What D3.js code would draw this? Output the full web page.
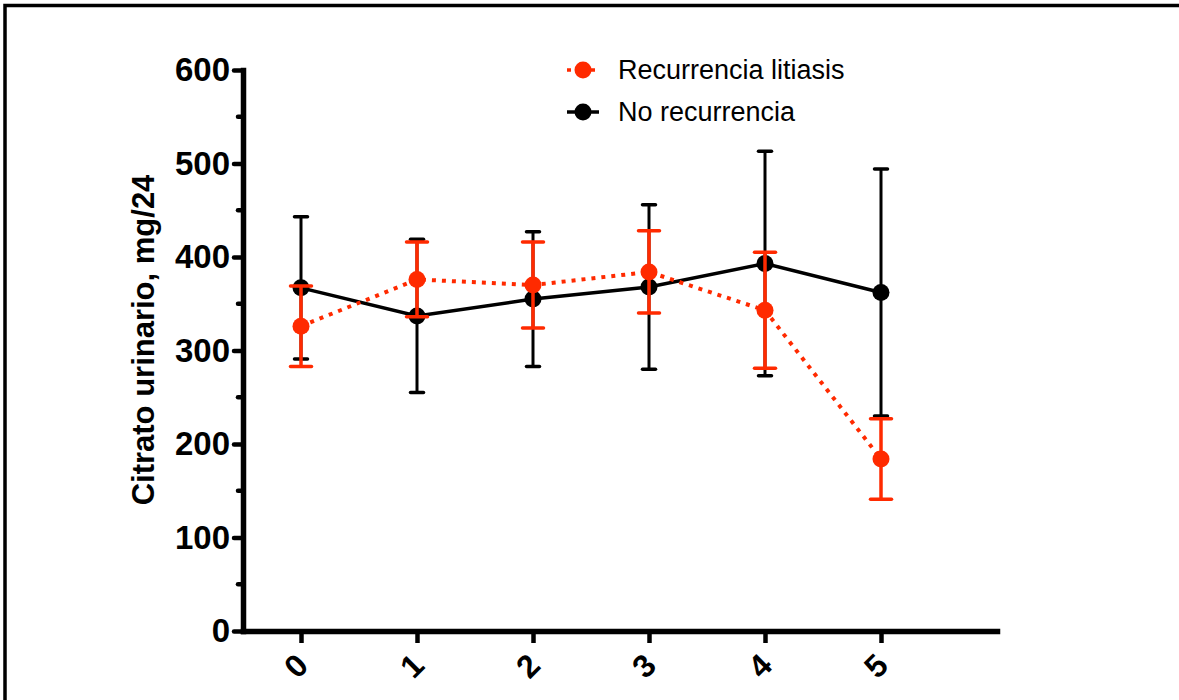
<!DOCTYPE html>
<html>
<head>
<meta charset="utf-8">
<script src="https://cdnjs.cloudflare.com/ajax/libs/d3/7.8.5/d3.min.js"></script>
<style>
  body { margin: 0; background: #fff; }
  svg { display: block; }
</style>
</head>
<body>
<div id="chart"></div>
<script>
// data (mean and error bar half-length)
const timePoints = [0, 1, 2, 3, 4, 5];
const recMean = [326, 376, 370, 384, 343, 184];
const recErr = [43, 40, 46, 44, 62, 43];
const noRecMean = [367, 337, 355, 368, 393, 362];
const noRecErr = [76, 82, 72, 88, 120, 132];
const yMajorTicks = [0, 100, 200, 300, 400, 500, 600];
const yMinorTicks = [50, 150, 250, 350, 450, 550];
const seriesNames = ["Recurrencia litiasis", "No recurrencia"];

const red = "#ff2a00";
const W = 1179, H = 700;

const svg = d3.select("#chart").append("svg")
    .attr("width", W)
    .attr("height", H);

svg.append("rect").attr("width", W).attr("height", H).attr("fill", "#fff");

// frame (top + left edges only)
svg.append("path")
    .attr("d", "M5,700 L5,5.5 L1179,5.5")
    .attr("fill", "none")
    .attr("stroke", "#000")
    .attr("stroke-width", 3.5);

// scales
const x = d3.scaleLinear().domain([-0.5, 6]).range([243, 997]);
const y = d3.scaleLinear().domain([0, 600]).range([631, 70]);

// y axis
const yAxis = svg.append("g")
    .attr("transform", "translate(243,0)")
    .call(d3.axisLeft(y).tickValues(yMajorTicks).tickSize(9).tickSizeOuter(0).tickPadding(4));
yAxis.select(".domain").attr("stroke-width", 5.5).attr("stroke-linecap", "square");
yAxis.selectAll(".tick line").attr("stroke-width", 4.5).attr("stroke-linecap", "round");
yAxis.selectAll(".tick text")
    .attr("font-family", "Liberation Sans, Arial, sans-serif")
    .attr("font-weight", "bold")
    .attr("font-size", 33)
    .attr("fill", "#000");

svg.append("g").selectAll("line")
    .data(yMinorTicks)
    .join("line")
    .attr("x1", 238).attr("x2", 243)
    .attr("y1", d => y(d)).attr("y2", d => y(d))
    .attr("stroke", "#000")
    .attr("stroke-width", 4.5)
    .attr("stroke-linecap", "round");

// x axis
const xAxis = svg.append("g")
    .attr("transform", "translate(0,631)")
    .call(d3.axisBottom(x).tickValues(timePoints).tickSize(12).tickSizeOuter(0).tickFormat(""));
xAxis.select(".domain").attr("stroke-width", 5.5).attr("stroke-linecap", "square");
xAxis.selectAll(".tick line").attr("stroke-width", 4.5);

svg.append("g").selectAll("text")
    .data(timePoints)
    .join("text")
    .attr("transform", d => "translate(" + (x(d) - 5) + ",666) rotate(-45)")
    .attr("text-anchor", "middle")
    .attr("dominant-baseline", "central")
    .attr("font-family", "Liberation Sans, Arial, sans-serif")
    .attr("font-weight", "bold")
    .attr("font-size", 32)
    .text(d => d);

// y axis title
svg.append("text")
    .attr("transform", "translate(154,340) rotate(-90)")
    .attr("text-anchor", "middle")
    .attr("font-family", "Liberation Sans, Arial, sans-serif")
    .attr("font-weight", "bold")
    .attr("font-size", 31)
    .text("Citrato urinario, mg/24");

// series
function drawSeries(mean, err, color, dash, lineW, capW, barW) {
    const g = svg.append("g");
    const pts = timePoints.map((t, i) => ({t: t, m: mean[i], e: err[i]}));

    g.selectAll(".bar").data(pts).join("line")
        .attr("x1", d => x(d.t)).attr("x2", d => x(d.t))
        .attr("y1", d => y(d.m + d.e)).attr("y2", d => y(d.m - d.e))
        .attr("stroke", color).attr("stroke-width", barW);

    g.selectAll(".cap").data(pts.flatMap(d => [d.m + d.e, d.m - d.e].map(v => ({t: d.t, v: v}))))
        .join("line")
        .attr("x1", d => x(d.t) - capW / 2).attr("x2", d => x(d.t) + capW / 2)
        .attr("y1", d => y(d.v)).attr("y2", d => y(d.v))
        .attr("stroke", color).attr("stroke-width", 3.5).attr("stroke-linecap", "round");

    g.append("path")
        .datum(pts)
        .attr("fill", "none")
        .attr("stroke", color)
        .attr("stroke-width", lineW)
        .attr("stroke-dasharray", dash)
        .attr("d", d3.line().x(d => x(d.t)).y(d => y(d.m)));

    g.selectAll("circle").data(pts).join("circle")
        .attr("cx", d => x(d.t)).attr("cy", d => y(d.m))
        .attr("r", 8.5)
        .attr("fill", color);
}

drawSeries(noRecMean, noRecErr, "#000", null, 3.5, 13, 3);
drawSeries(recMean, recErr, red, "4,6", 4, 21, 3.5);

// legend
const legend = svg.append("g");
const legendItems = [
    {name: seriesNames[0], color: red, dash: "4,4", y: 70},
    {name: seriesNames[1], color: "#000", dash: null, y: 112}
];
legendItems.forEach(d => {
    legend.append("line")
        .attr("x1", 567).attr("x2", 599)
        .attr("y1", d.y).attr("y2", d.y)
        .attr("stroke", d.color).attr("stroke-width", 3.5)
        .attr("stroke-dasharray", d.dash);
    legend.append("circle")
        .attr("cx", 583).attr("cy", d.y).attr("r", 8.5)
        .attr("fill", d.color);
    legend.append("text")
        .attr("x", 618).attr("y", d.y)
        .attr("dominant-baseline", "central")
        .attr("font-family", "Liberation Sans, Arial, sans-serif")
        .attr("font-size", 27)
        .text(d.name);
});
</script>
</body>
</html>
